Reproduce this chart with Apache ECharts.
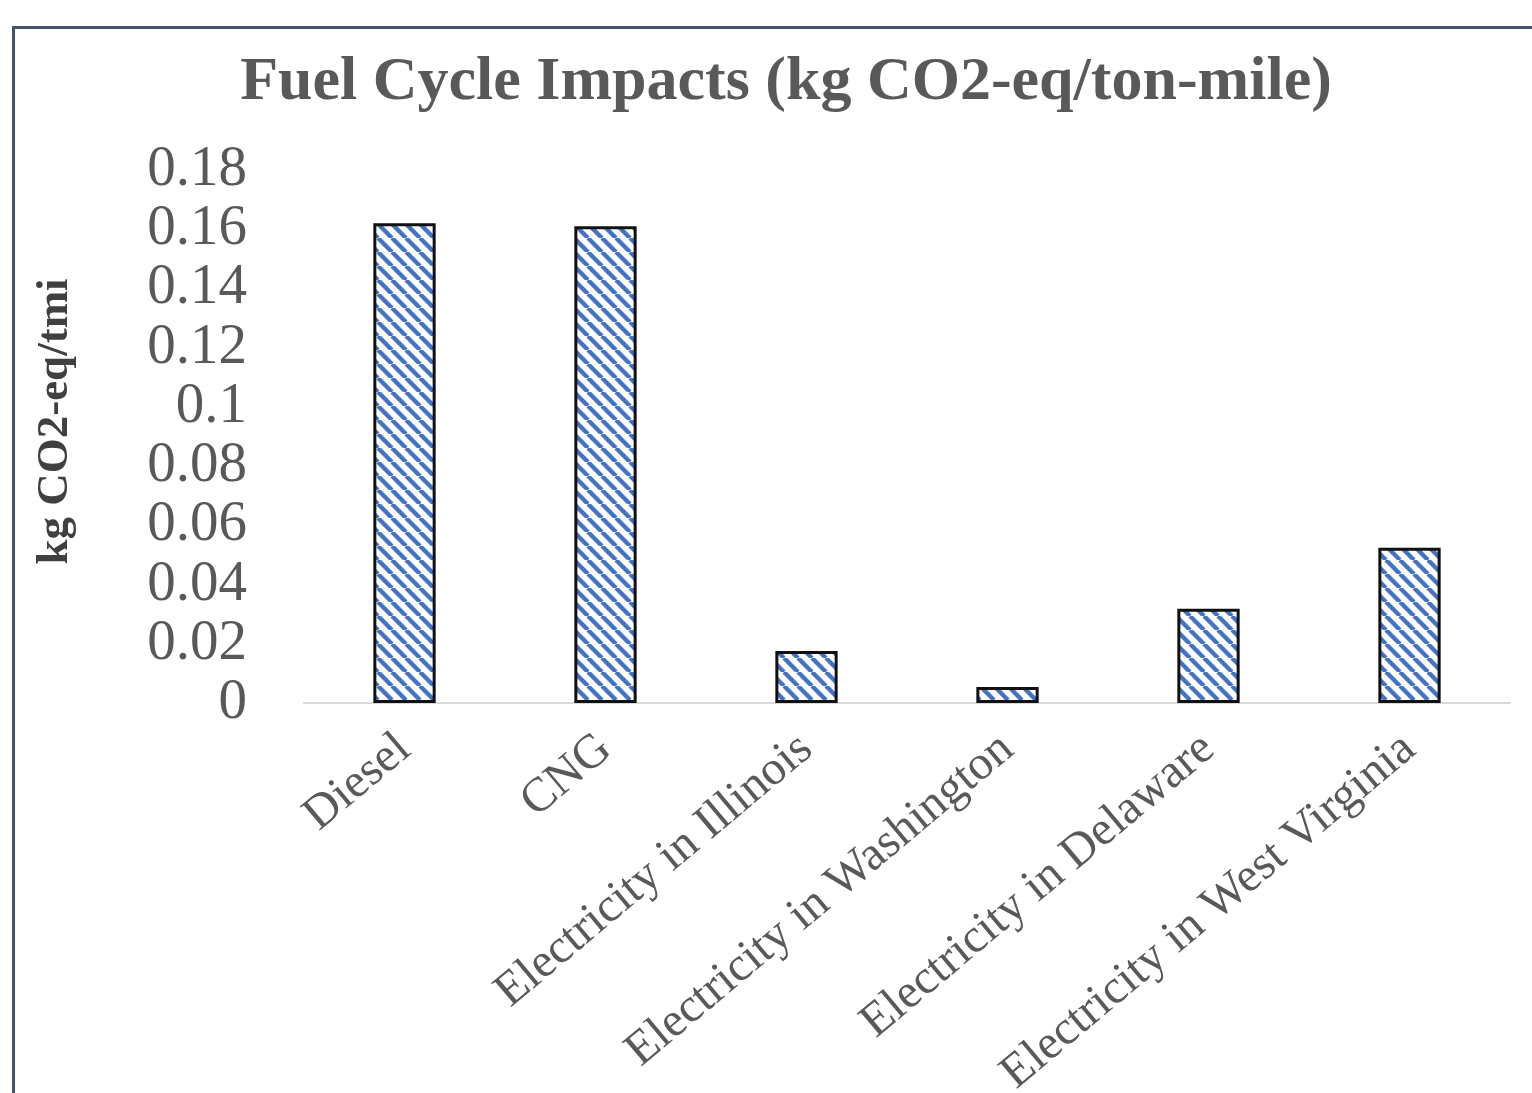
<!DOCTYPE html>
<html><head><meta charset="utf-8">
<script src="https://cdn.jsdelivr.net/npm/echarts@6/dist/echarts.min.js"></script>
<style>html,body{margin:0;padding:0;background:#fff}#c{width:1532px;height:1093px}</style>
</head><body><div id="c"></div>
<script>
const categories = ["Diesel","CNG","Electricity in Illinois","Electricity in Washington","Electricity in Delaware","Electricity in West Virginia"];
const values = [0.162, 0.161, 0.0176, 0.0054, 0.0318, 0.0524];
const yTicks = [0, 0.02, 0.04, 0.06, 0.08, 0.1, 0.12, 0.14, 0.16, 0.18];

function hatch(){
  const s = 14, c = document.createElement('canvas');
  c.width = s; c.height = s;
  const g = c.getContext('2d');
  g.fillStyle = '#ffffff'; g.fillRect(0,0,s,s);
  g.strokeStyle = '#4472c4'; g.lineWidth = 4.4;
  for (const o of [-s, 0, s]) { g.beginPath(); g.moveTo(o, 0); g.lineTo(o + s, s); g.stroke(); }
  return c;
}
const font = '"Liberation Serif", "Times New Roman", serif';
const chart = echarts.init(document.getElementById('c'));
chart.setOption({
  animation: false,
  backgroundColor: '#ffffff',
  title: { text: 'Fuel Cycle Impacts (kg CO2-eq/ton-mile)', left: 781, top: 47, textAlign: 'center',
    textStyle: { fontFamily: font, fontWeight: 'bold', fontSize: 62, color: '#595959' } },
  graphic: [{ type: 'rect', shape: { x: 13.5, y: 27.5, width: 1600, height: 1200 },
    style: { fill: 'none', stroke: '#44546a', lineWidth: 3 }, silent: true }],
  grid: { left: 304, right: 22, top: 170, bottom: 390, containLabel: false, outerBoundsMode: 'none' },
  xAxis: { type: 'category', data: categories,
    axisLine: { lineStyle: { color: '#d9d9d9', width: 2 } }, axisTick: { show: false },
    axisLabel: { rotate: 40, interval: 0, margin: 40, fontFamily: font, fontSize: 48, color: '#595959' } },
  yAxis: { type: 'value', min: 0, max: 0.18, interval: 0.02,
    name: 'kg CO2-eq/tmi', nameLocation: 'middle', nameGap: 226, nameRotate: 90,
    nameTextStyle: { fontFamily: font, fontWeight: 'bold', fontSize: 45, color: '#404040', padding: [0, 0, 0, 30] },
    axisLine: { show: false }, axisTick: { show: false }, splitLine: { show: false },
    axisLabel: { margin: 57, fontFamily: font, fontSize: 57, color: '#595959',
      formatter: v => { const t = yTicks.find(x => Math.abs(x - v) < 1e-9); return t === undefined ? '' : String(t); } } },
  series: [{ type: 'bar', data: values, barWidth: '31%',
    itemStyle: { color: { image: hatch(), repeat: 'repeat' }, borderColor: '#111', borderWidth: 3 } }]
});
</script></body></html>
